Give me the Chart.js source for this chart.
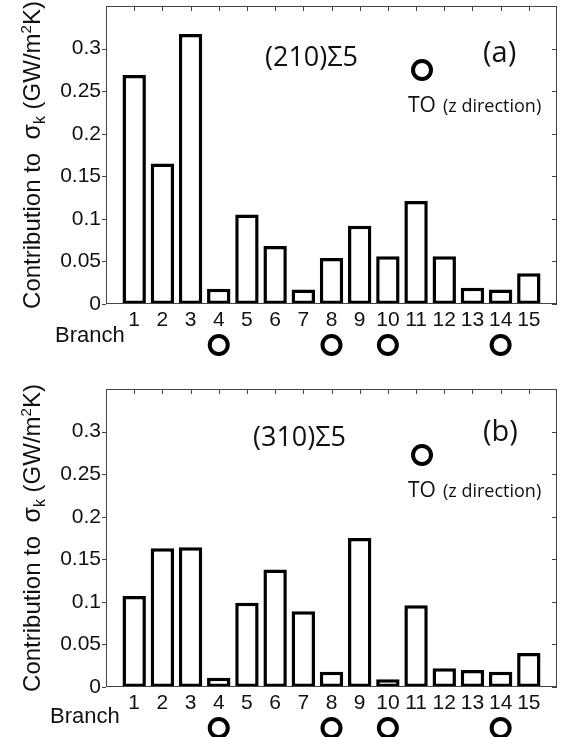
<!DOCTYPE html>
<html>
<head>
<meta charset="utf-8">
<script src="https://cdn.jsdelivr.net/npm/chart.js@4.4.1/dist/chart.umd.min.js"></script>
<style>
  html, body { margin: 0; padding: 0; background: #fff; }
  #wrap { position: relative; width: 566px; height: 737px; overflow: hidden; }
  canvas { position: absolute; left: 0; }
  #chartA { top: 0; }
  #chartB { top: 370px; }
</style>
</head>
<body>
<div id="wrap">
  <canvas id="chartA" width="566" height="370"></canvas>
  <canvas id="chartB" width="566" height="367"></canvas>
</div>
<script>
// 数据
const branches = ['1', '2', '3', '4', '5', '6', '7', '8', '9', '10', '11', '12', '13', '14', '15'];
const sigma210 = [0.269, 0.165, 0.317, 0.018, 0.105, 0.068, 0.017, 0.054, 0.092, 0.056, 0.121, 0.056, 0.019, 0.017, 0.036];
const sigma310 = [0.107, 0.163, 0.164, 0.011, 0.099, 0.138, 0.089, 0.018, 0.175, 0.009, 0.096, 0.022, 0.020, 0.018, 0.040];
const yTickLabels = ['0', '0.05', '0.1', '0.15', '0.2', '0.25', '0.3'];
const toBranches = [4, 8, 10, 14];

const AXIS_COLOR = '#444';
const TEXT_COLOR = '#111';

// y轴标题（带上下标）
function drawYLabel(ctx, area) {
    const pieces = [
        { t: 'Contribution to  ', size: 24, dy: 0 },
        { t: 'σ', size: 25, dy: 0 },
        { t: 'k', size: 16, dy: 5 },
        { t: ' (GW/m', size: 24, dy: 0 },
        { t: '2', size: 15, dy: -9 },
        { t: 'K)', size: 24, dy: 0 }
    ];
    ctx.save();
    ctx.translate(40, (area.top + area.bottom) / 2);
    ctx.rotate(-Math.PI / 2);
    ctx.fillStyle = TEXT_COLOR;
    ctx.textBaseline = 'alphabetic';
    ctx.textAlign = 'left';
    let total = 0;
    pieces.forEach(p => {
        ctx.font = p.size + 'px "Liberation Sans", Arial, sans-serif';
        p.w = ctx.measureText(p.t).width;
        total += p.w;
    });
    let x = -total / 2;
    pieces.forEach(p => {
        ctx.font = p.size + 'px "Liberation Sans", Arial, sans-serif';
        ctx.fillText(p.t, x, p.dy);
        x += p.w;
    });
    ctx.restore();
}

function circle(ctx, x, y) {
    ctx.beginPath();
    ctx.arc(x, y, 9, 0, Math.PI * 2);
    ctx.lineWidth = 4;
    ctx.strokeStyle = '#000';
    ctx.stroke();
}

// 注释、边框、刻度
function panelPlugin(opt) {
    return {
        id: 'panel',
        afterDraw(chart) {
            const ctx = chart.ctx;
            const a = chart.chartArea;
            const xs = chart.scales.x;
            const ys = chart.scales.y;
            ctx.save();
            // 边框
            ctx.strokeStyle = AXIS_COLOR;
            ctx.lineWidth = 1;
            ctx.strokeRect(a.left + 0.5, a.top + 0.5, a.right - a.left - 1, a.bottom - a.top - 1);
            ctx.beginPath();
            ys.ticks.forEach((t, i) => {
                if (i >= yTickLabels.length) return;
                const y = Math.round(ys.getPixelForValue(t.value)) + 0.5;
                ctx.moveTo(a.left - 4, y); ctx.lineTo(a.left, y);
                ctx.moveTo(a.right - 5, y); ctx.lineTo(a.right, y);
            });
            branches.forEach((b, i) => {
                const x = Math.round(xs.getPixelForValue(i + 1)) + 0.5;
                ctx.moveTo(x, a.top); ctx.lineTo(x, a.top + 5);
            });
            ctx.stroke();

            drawYLabel(ctx, a);

            ctx.fillStyle = TEXT_COLOR;
            ctx.textBaseline = 'middle';
            ctx.textAlign = 'left';
            ctx.font = '27px "Open Sans", sans-serif';
            ctx.fillText(opt.title, opt.titleX, a.top + opt.titleDy);
            ctx.font = '29px "Open Sans", sans-serif';
            ctx.fillText(opt.letter, 483, a.top + opt.letterDy);

            circle(ctx, 422, a.top + opt.legendDy);
            ctx.font = '21px "Open Sans", sans-serif';
            ctx.fillText('TO', 408, a.top + opt.legendDy + 36);
            ctx.font = '18px "Open Sans", sans-serif';
            ctx.fillText('(z direction)', 443, a.top + opt.legendDy + 37);

            ctx.font = '22px "Liberation Sans", Arial, sans-serif';
            ctx.textBaseline = 'alphabetic';
            ctx.fillText('Branch', opt.branchX, a.bottom + opt.branchDy);

            toBranches.forEach(b => circle(ctx, xs.getPixelForValue(b), a.bottom + 41));
            ctx.restore();
        }
    };
}

function makeChart(id, values, padTop, xHeight, opt) {
    const ctx = document.getElementById(id).getContext('2d');
    return new Chart(ctx, {
        type: 'bar',
        data: {
            datasets: [{
                data: values.map((v, i) => ({ x: i + 1, y: v })),
                backgroundColor: '#fff',
                borderColor: '#000',
                borderWidth: 3.5,
                borderSkipped: false,
                barPercentage: 1,
                categoryPercentage: 0.83
            }]
        },
        options: {
            responsive: false,
            animation: false,
            devicePixelRatio: 1,
            layout: { padding: { top: padTop, right: 9, left: 0, bottom: 0 } },
            plugins: { legend: { display: false }, tooltip: { enabled: false } },
            scales: {
                x: {
                    type: 'linear',
                    min: 0,
                    max: 16,
                    offset: false,
                    grid: { display: false, drawTicks: false, offset: false },
                    border: { display: false },
                    ticks: {
                        stepSize: 1,
                        autoSkip: false,
                        maxRotation: 0,
                        padding: 4,
                        color: TEXT_COLOR,
                        font: { family: '"Liberation Sans", Arial, sans-serif', size: 21 },
                        callback: function(value) {
                            return branches[value - 1] || '';
                        }
                    },
                    afterFit: function(s) { s.height = xHeight; s.paddingLeft = 0; s.paddingRight = 0; }
                },
                y: {
                    min: 0,
                    max: 0.35,
                    grid: { display: false, drawTicks: false },
                    border: { display: false },
                    ticks: {
                        stepSize: 0.05,
                        padding: 5,
                        color: TEXT_COLOR,
                        font: { family: '"Liberation Sans", Arial, sans-serif', size: 21 },
                        callback: function(value, index) {
                            return yTickLabels[index] || '';
                        }
                    },
                    afterFit: function(s) { s.width = 106; s.paddingTop = 0; s.paddingBottom = 0; }
                }
            }
        },
        plugins: [panelPlugin(opt)]
    });
}

makeChart('chartA', sigma210, 6, 66, {
    title: '(210)Σ5', titleX: 265, titleDy: 52,
    letter: '(a)', letterDy: 48, legendDy: 64,
    branchX: 55, branchDy: 38
});
makeChart('chartB', sigma310, 19, 50, {
    title: '(310)Σ5', titleX: 253, titleDy: 49,
    letter: '(b)', letterDy: 44, legendDy: 66,
    branchX: 50, branchDy: 36
});
</script>
</body>
</html>
